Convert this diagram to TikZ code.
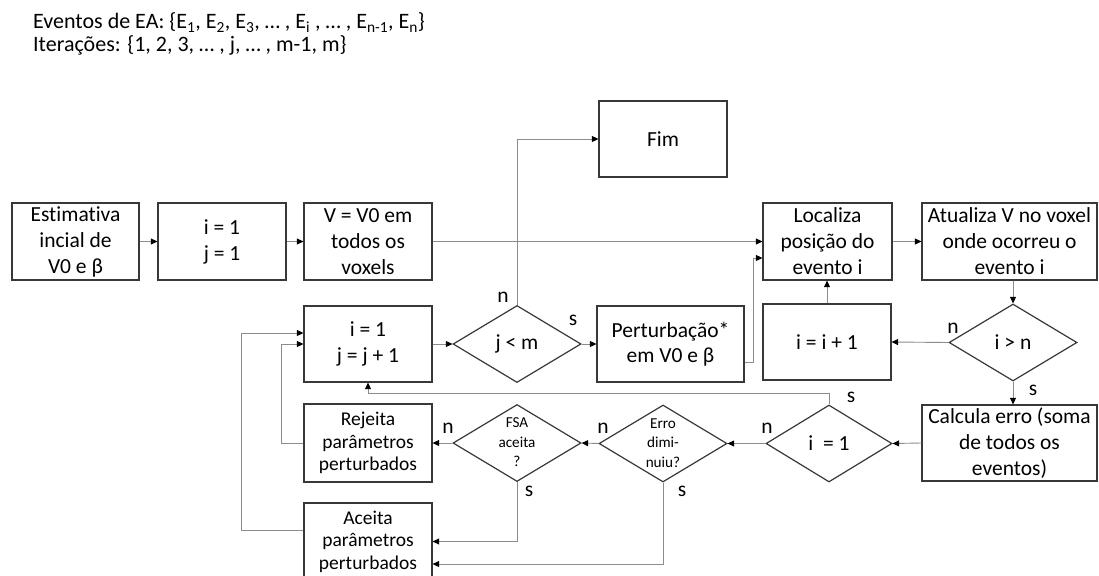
\documentclass[tikz,border=0pt]{standalone}
\usepackage{fontspec}
\setmainfont{Carlito}[Ligatures={NoCommon}]
\usetikzlibrary{arrows.meta,shapes.geometric}
\newcommand\dtxt[1]{\raisebox{-0.25em}[0pt][0pt]{\begin{tabular}{@{}c@{}}#1\end{tabular}}}
\begin{document}
\begin{tikzpicture}[x=1pt,y=-1pt,
  box/.style={draw=black!78, line width=1.2pt, rectangle, align=center, inner sep=0pt,
    font=\fontsize{21.5}{26}\selectfont, text=black},
  boxs/.style={box, font=\fontsize{19.5}{22.5}\selectfont},
  dia/.style={draw=black!78, line width=1.2pt, diamond, inner sep=0pt, align=center,
    minimum width=128pt, minimum height=77pt, font=\fontsize{21.5}{26}\selectfont, text=black},
  dias/.style={dia, font=\fontsize{15.2}{19.5}\selectfont},
  conn/.style={draw=black!45, line width=0.9pt, -{Triangle[length=6.5pt,width=6pt,color=black]}},
  lab/.style={font=\fontsize{21.5}{24}\selectfont, text=black, inner sep=0pt},
  ttl/.style={anchor=base west, inner sep=0pt, font=\fontsize{22}{24}\selectfont, text=black}
]
\path[fill=white, use as bounding box] (0,0) rectangle (1099,575);
\clip (0,0) rectangle (1099,575);

% title
\node[ttl] (t1) at (33,29) {Eventos de EA: \{E\textsubscript{1}, E\textsubscript{2}, E\textsubscript{3}, … , E\textsubscript{i} , … , E\textsubscript{n-1}, E\textsubscript{n}\}};
\node[ttl] (t2) at (33,52) {Iterações: \{1, 2, 3, … , j, … , m-1, m\}};

% nodes
\node[box, minimum width=127pt, minimum height=77pt] (est) at (75.5,241.5) {Estimativa\\incial de\\V0 e β};
\node[box, minimum width=128pt, minimum height=77pt] (ij1) at (222,241.5) {i = 1\\j = 1};
\node[box, minimum width=128pt, minimum height=77pt] (v0) at (368,241.5) {V = V0 em\\todos os\\voxels};
\node[box, minimum width=128pt, minimum height=76pt] (fim) at (663,139) {Fim};
\node[box, minimum width=129pt, minimum height=77pt] (loc) at (827.5,241.5) {Localiza\\posição do\\evento i};
\node[box, minimum width=175pt, minimum height=77pt] (atu) at (1009.5,241.5) {Atualiza V no voxel\\onde ocorreu o\\evento i};
\node[box, minimum width=128pt, minimum height=76pt] (iinc) at (827,342) {i = i + 1};
\node[dia] (ign) at (1013,342.5) {i > n};
\node[box, minimum width=175pt, minimum height=76pt] (calc) at (1009.5,443) {Calcula erro (soma\\de todos os\\eventos)};
\node[dia, minimum width=126pt] (ieq) at (829,443.5) {i \ = 1};
\node[box, minimum width=128pt, minimum height=76pt] (ijj) at (368,344) {i = 1\\j = j + 1};
\node[dia] (jm) at (517,344) {j < m};
\node[box, minimum width=147pt, minimum height=76pt, font=\fontsize{21.5}{25}\selectfont] (pert) at (670.5,344) {Perturbação*\\em V0 e β};
\node[boxs, minimum width=128pt, minimum height=78pt] (rej) at (368,443) {Rejeita\\parâmetros\\perturbados};
\node[dias] (fsa) at (517,443) {\dtxt{FSA\\aceita\\?}};
\node[dias] (erro) at (663,443.5) {\dtxt{Erro\\dimi-\\nuiu?}};
\node[boxs, minimum width=128pt, minimum height=77pt] (ace) at (368,541.5) {Aceita\\parâmetros\\perturbados};

% connectors
\draw[conn] (est) -- (ij1);
\draw[conn] (ij1) -- (v0);
\draw[conn] (v0) -- (loc);
\draw[conn] (loc) -- (atu);
\draw[conn] (ign.north |- atu.south) -- (ign.north);
\draw[conn] (ign.west) -- (iinc.east);
\draw[conn] (iinc.north) -- (iinc.north |- loc.south);
\draw[conn] (ign.south) -- (ign.south |- calc.north);
\draw[conn] (calc.west) -- (ieq.east);
\draw[conn] (ieq.west) -- (erro.east);
\draw[conn] (ieq.north) -- ++(0,-11) -| (ijj.south);
\draw[conn] (erro.west) -- (fsa.east);
\draw[conn] (fsa.west) -- (rej.east);
\draw[conn] (fsa.south) |- (ace.east);
\draw[conn] (erro.south) |- ([yshift=-22.5pt]ace.east);
\draw[conn] (rej.west) -- ++(-22,0) |- (ijj.west);
\draw[conn] ([yshift=11.5pt]ace.west) -- ++(-62,0) |- ([yshift=11pt]ijj.west);
\draw[conn] (ijj) -- (jm);
\draw[conn] (jm) -- (pert);
\draw[conn] (jm.north) |- (fim.west);
\draw[conn] ([yshift=-18pt]pert.east) -- ++(9,0) |- ([yshift=-16.5pt]loc.west);

% branch labels
\node[lab] (l1) at (953,328) {n};
\node[lab] (l2) at (1033,390) {s};
\node[lab] (l3) at (767,428) {n};
\node[lab] (l4) at (851,397) {s};
\node[lab] (l5) at (603,428) {n};
\node[lab] (l6) at (682,491) {s};
\node[lab] (l7) at (448,428) {n};
\node[lab] (l8) at (529,491) {s};
\node[lab] (l9) at (573,320) {s};
\node[lab] (l10) at (503,297) {n};
\end{tikzpicture}
\end{document}
